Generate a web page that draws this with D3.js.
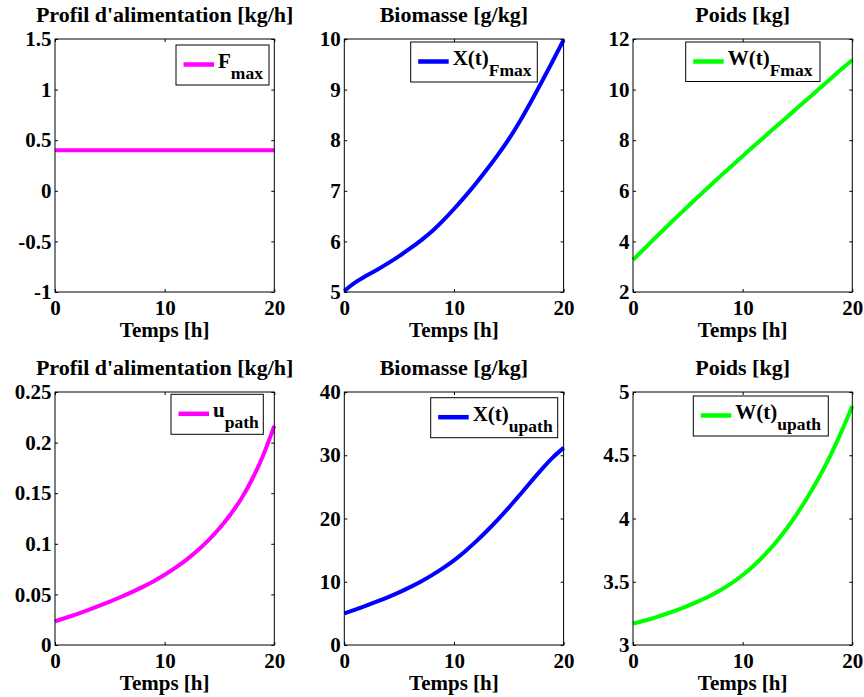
<!DOCTYPE html>
<html><head><meta charset="utf-8">
<script src="https://cdn.jsdelivr.net/npm/d3@7"></script>
<style>
body{margin:0;background:#fff}
svg text{font-family:"Liberation Serif","Times New Roman",serif !important;font-weight:bold;fill:#000}
</style>
</head><body>
<svg id="chart" width="864" height="697"></svg>
<script>
// ---------- data ----------
const timeH = [0,1,2,3,4,5,6,7,8,9,10,11,12,13,14,15,16,17,18,19,20];
const feedFmax = [0.4,0.4,0.4,0.4,0.4,0.4,0.4,0.4,0.4,0.4,0.4,0.4,0.4,0.4,0.4,0.4,0.4,0.4,0.4,0.4,0.4];
const biomassFmax = [5.02,5.19,5.32,5.44,5.57,5.71,5.86,6.02,6.20,6.41,6.64,6.885,7.145,7.42,7.71,8.02,8.37,8.75,9.15,9.56,9.98];
const weightFmax = [3.27,3.70,4.13,4.55,4.97,5.38,5.79,6.19,6.59,6.98,7.37,7.76,8.14,8.52,8.90,9.28,9.66,10.04,10.42,10.80,11.17];
const feedUpath = [0.0234,0.0269,0.0306,0.0345,0.0386,0.0429,0.0474,0.0522,0.0574,0.0631,0.0694,0.0764,0.0843,0.0933,0.1036,0.1154,0.129,0.1448,0.1643,0.1878,0.2165];
const biomassUpath = [5.0,5.6,6.22,6.88,7.58,8.33,9.15,10.05,11.05,12.15,13.37,14.79,16.34,18.02,19.82,21.72,23.72,25.77,27.77,29.62,31.17];
const weightUpath = [3.17,3.192,3.217,3.245,3.276,3.31,3.347,3.388,3.435,3.489,3.553,3.627,3.712,3.809,3.919,4.043,4.18,4.33,4.498,4.685,4.89];

const xTicks = [0,10,20];
const yTicksFeedFmax = [-1,-0.5,0,0.5,1,1.5];
const yTicksBiomassFmax = [5,6,7,8,9,10];
const yTicksWeightFmax = [2,4,6,8,10,12];
const yTicksFeedUpath = [0,0.05,0.1,0.15,0.2,0.25];
const yTicksBiomassUpath = [0,10,20,30,40];
const yTicksWeightUpath = [3,3.5,4,4.5,5];

const titles = ["Profil d'alimentation [kg/h]","Biomasse [g/kg]","Poids [kg]"];
const xLabel = "Temps [h]";
const legendMain = ["F","X(t)","W(t)","u","X(t)","W(t)"];
const legendSub = ["max","Fmax","Fmax","path","upath","upath"];
const colors = ["#ff00ff","#0000ff","#00ff00"];

// ---------- layout ----------
const FONT = "'Liberation Serif','Times New Roman',serif";
const colLeft = [55, 344.3, 633];
const axW = 219.3;
const rowTop = [39, 392];
const axH = 253;
const legendBoxes = [ // [left, top, width, height]
  [176,45,93,40],[410.7,42,126.6,40],[685.7,42,134.3,39.5],
  [171,394.3,92.3,40],[430.7,397.7,127,40],[693.3,396,135,40]
];

const panels = [
  {vals: feedFmax, ticks: yTicksFeedFmax},
  {vals: biomassFmax, ticks: yTicksBiomassFmax},
  {vals: weightFmax, ticks: yTicksWeightFmax},
  {vals: feedUpath, ticks: yTicksFeedUpath},
  {vals: biomassUpath, ticks: yTicksBiomassUpath},
  {vals: weightUpath, ticks: yTicksWeightUpath}
];

const svg = d3.select("#chart");
const fmt = v => d3.format("~g")(v).replace("\u2212","-");

panels.forEach((p, i) => {
  const r = Math.floor(i/3), c = i % 3;
  const g = svg.append("g").attr("transform", `translate(${colLeft[c]},${rowTop[r]})`);
  const x = d3.scaleLinear().domain([xTicks[0], xTicks[xTicks.length-1]]).range([0, axW]);
  const y = d3.scaleLinear().domain([p.ticks[0], p.ticks[p.ticks.length-1]]).range([axH, 0]);

  const ax = [
    g.append("g").attr("transform",`translate(0,${axH})`).call(d3.axisBottom(x).tickValues(xTicks).tickFormat(fmt).tickSizeInner(-3).tickSizeOuter(0).tickPadding(8)),
    g.append("g").call(d3.axisTop(x).tickValues(xTicks).tickFormat("").tickSizeInner(-3).tickSizeOuter(0)),
    g.append("g").call(d3.axisLeft(y).tickValues(p.ticks).tickFormat(fmt).tickSizeInner(-3).tickSizeOuter(0).tickPadding(3.5)),
    g.append("g").attr("transform",`translate(${axW},0)`).call(d3.axisRight(y).tickValues(p.ticks).tickFormat("").tickSizeInner(-3).tickSizeOuter(0))
  ];
  ax.forEach(a => {
    a.attr("font-family", FONT).attr("font-size", 21).attr("font-weight","bold");
    a.select(".domain").remove();
    a.selectAll("line").attr("stroke","#000").attr("stroke-width",1);
    a.selectAll("text").style("font-family", FONT).style("font-size","21px").style("font-weight","bold").style("fill","#000");
  });

  const line = d3.line().x((d,k) => x(timeH[k])).y(d => y(d)).curve(d3.curveMonotoneX);
  g.append("path").datum(p.vals).attr("d", line)
    .attr("fill","none").attr("stroke", colors[c]).attr("stroke-width",4);

  g.append("rect").attr("x",0).attr("y",0).attr("width",axW).attr("height",axH)
    .attr("fill","none").attr("stroke","#000").attr("stroke-width",1);

  g.append("text").attr("x",axW/2).attr("y",-17).attr("text-anchor","middle")
    .attr("font-size",22).text(titles[c]);
  g.append("text").attr("x",axW/2).attr("y",axH+45).attr("text-anchor","middle")
    .attr("font-size",21).text(xLabel);

  const lb = legendBoxes[i];
  const lg = svg.append("g").attr("transform",`translate(${lb[0]},${lb[1]})`);
  lg.append("rect").attr("width",lb[2]).attr("height",lb[3])
    .attr("fill","#fff").attr("stroke","#000").attr("stroke-width",1);
  lg.append("line").attr("x1",7.5).attr("x2",38).attr("y1",19.5).attr("y2",19.5)
    .attr("stroke",colors[c]).attr("stroke-width",4.5);
  const t = lg.append("text").attr("x",42).attr("y",23).attr("font-size",21);
  t.append("tspan").text(legendMain[i]);
  t.append("tspan").attr("dy",11).attr("font-size",17.5).text(legendSub[i]);
});
</script>
</body></html>
